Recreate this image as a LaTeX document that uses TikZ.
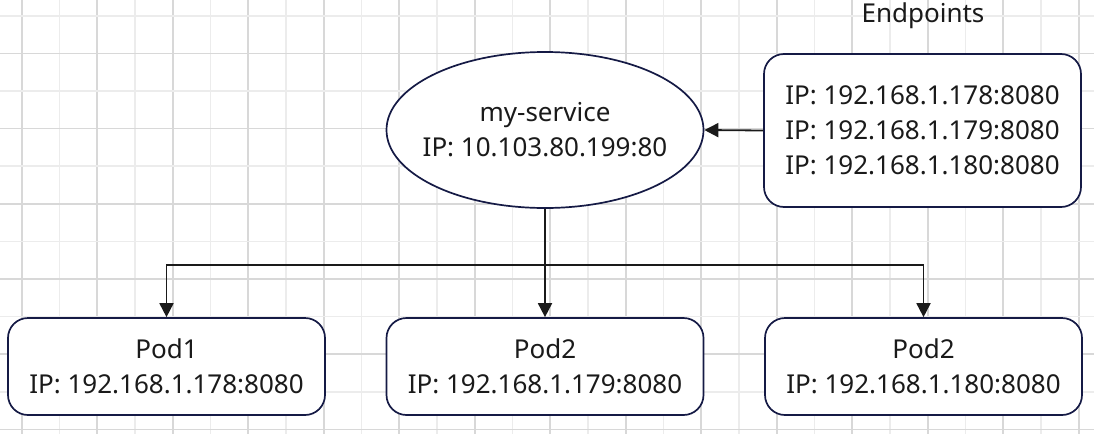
\documentclass[tikz,border=0pt]{standalone}
\usepackage{fontspec}
\setmainfont{Noto Sans}
\usetikzlibrary{arrows.meta,shapes.geometric}
\definecolor{gridmaj}{HTML}{D8D8D8}
\definecolor{gridmin}{HTML}{ECECEC}
\definecolor{edge}{HTML}{151A45}
\definecolor{ink}{HTML}{1A1A1A}
\begin{document}
\begin{tikzpicture}[x=1pt,y=-1pt,
  txt/.style={font=\fontsize{26}{35}\selectfont, text=ink, align=center},
  box/.style={txt, draw=edge, line width=1.7pt, fill=white, rounded corners=20pt, minimum width=317pt, inner sep=0pt},
  oval/.style={txt, ellipse, draw=edge, line width=1.7pt, fill=white, minimum width=317pt, minimum height=156pt, inner xsep=-16pt, inner ysep=0pt},
  arr/.style={draw=ink, line width=1.8pt, -{Triangle[length=14pt,width=14pt]}},
  conn/.style={draw=ink, line width=1.8pt}
]
\useasboundingbox (0,0) rectangle (1094,434);
\fill[white] (0,0) rectangle (1094,434);
% grid
\foreach \k in {0,...,28} {
  \pgfmathsetmacro\xx{21.7+37.75*\k}
  \pgfmathtruncatemacro\parity{mod(\k,2)}
  \ifnum\parity=0
    \draw[gridmaj, line width=1.6pt] (\xx,0) -- (\xx,434);
  \else
    \draw[gridmin, line width=1.6pt] (\xx,0) -- (\xx,434);
  \fi
}
\foreach \k in {0,...,11} {
  \pgfmathsetmacro\yy{15.7+37.6*\k}
  \pgfmathtruncatemacro\parity{mod(\k,2)}
  \ifnum\parity=1
    \draw[gridmaj, line width=1.6pt] (0,\yy) -- (1094,\yy);
  \else
    \draw[gridmin, line width=1.6pt] (0,\yy) -- (1094,\yy);
  \fi
}
% nodes
\node[oval] (svc) at (545,130) {my-service\\IP: 10.103.80.199:80};
\node[box, minimum height=153pt] (ep) at (922.5,130.5) {IP: 192.168.1.178:8080\\IP: 192.168.1.179:8080\\IP: 192.168.1.180:8080};
\node[txt] (eplabel) at (923,16) {Endpoints};
\node[box, minimum height=97pt] (pod1) at (166.5,366.5) {Pod1\\IP: 192.168.1.178:8080};
\node[box, minimum height=97pt] (pod2) at (545,366.5) {Pod2\\IP: 192.168.1.179:8080};
\node[box, minimum height=97pt] (pod3) at (923.5,366.5) {Pod2\\IP: 192.168.1.180:8080};
% connectors
\coordinate (bus) at (545,265);
\draw[arr] (ep.west) -- (svc.east);
\draw[conn] (svc.south) -- (bus);
\draw[arr] (bus) -| (pod1.north);
\draw[arr] (bus) -| (pod3.north);
\draw[arr] (bus) -- (pod2.north);
\end{tikzpicture}
\end{document}
